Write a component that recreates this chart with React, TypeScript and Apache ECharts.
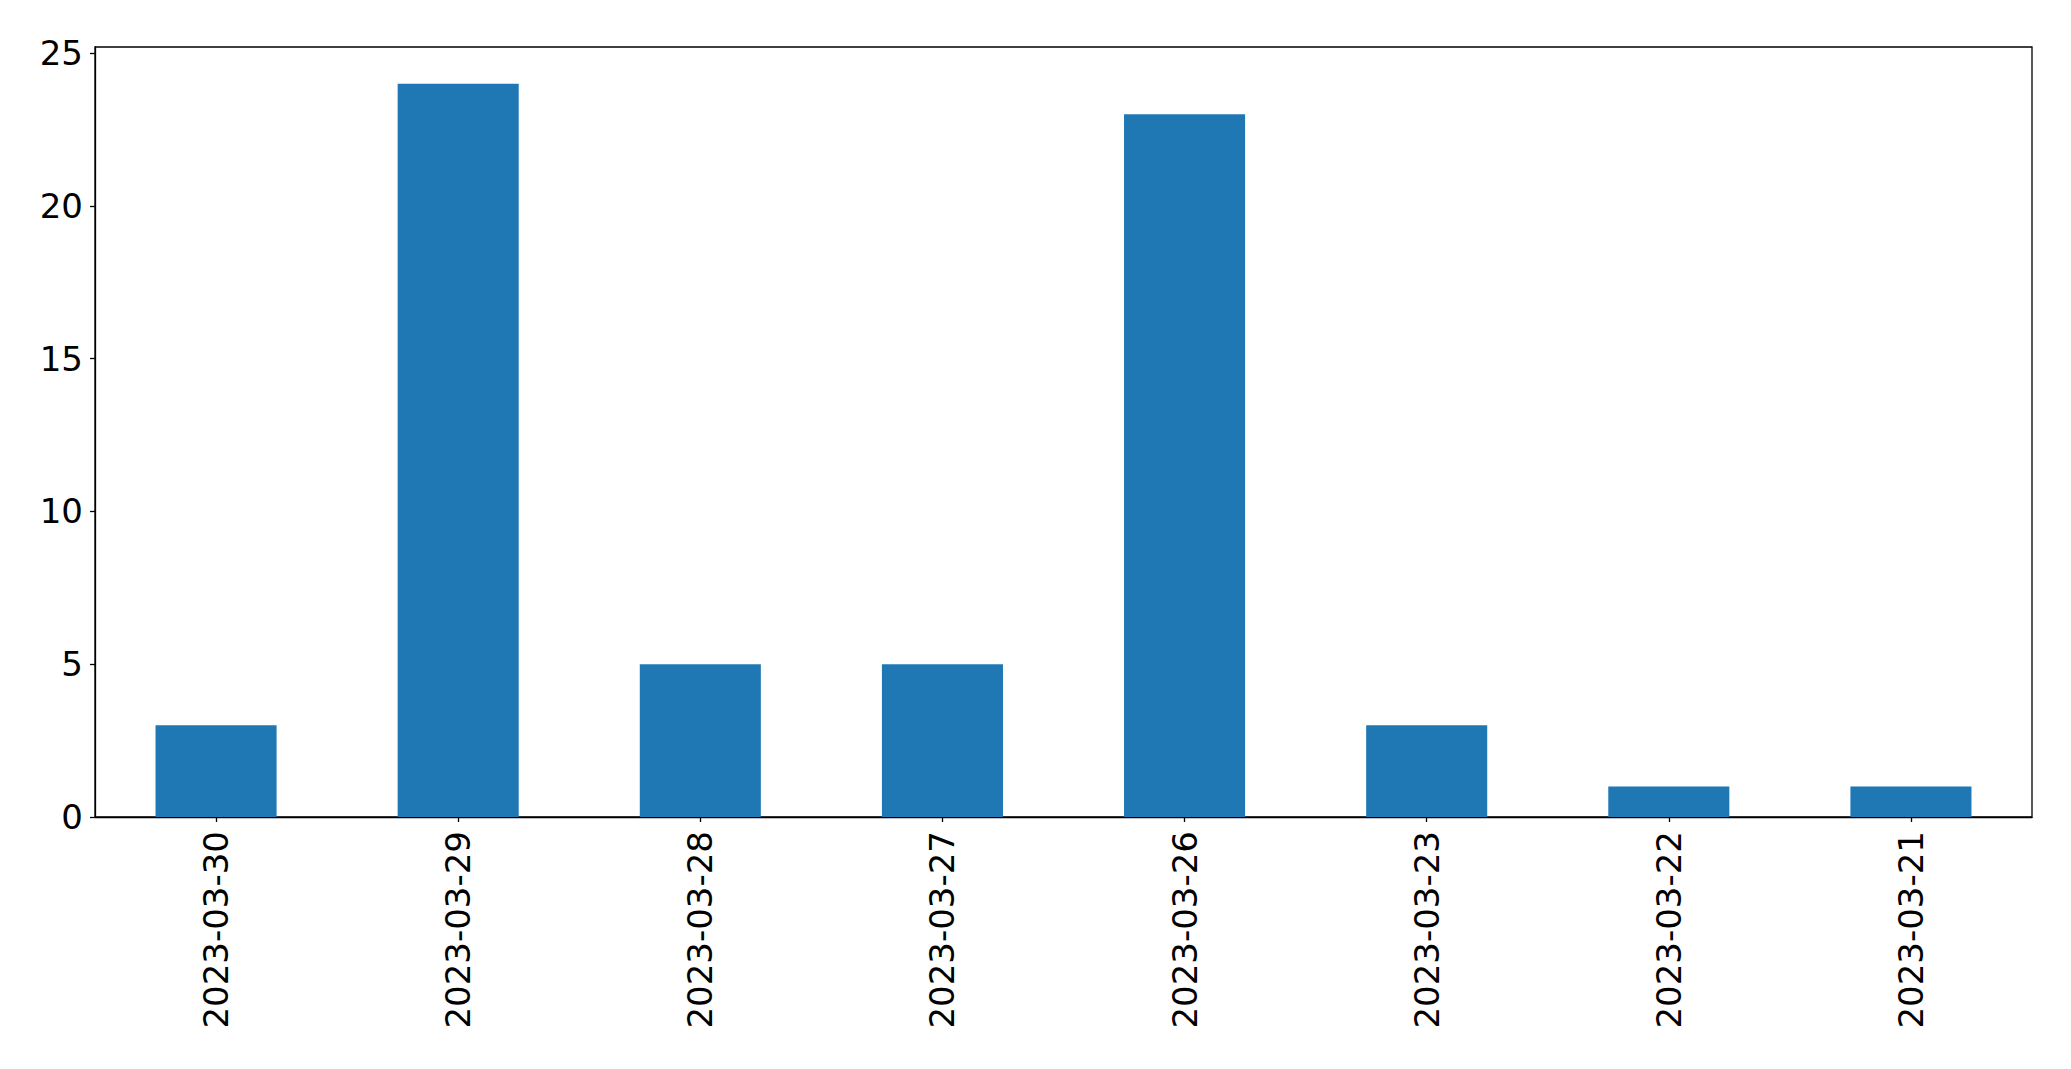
import React, { useEffect, useRef } from "react";
import * as echarts from "echarts";

const categories = ["2023-03-30", "2023-03-29", "2023-03-28", "2023-03-27", "2023-03-26", "2023-03-23", "2023-03-22", "2023-03-21"];
const values = [3, 24, 5, 5, 23, 3, 1, 1];
const yTicks = [0, 5, 10, 15, 20, 25];

export default function App() {
  const ref = useRef<HTMLDivElement>(null);
  useEffect(() => {
    if (!ref.current) return;
    const chart = echarts.init(ref.current, null, { renderer: "svg" });
    const font = "DejaVu Sans";
    chart.setOption({
      animation: false,
      backgroundColor: "#ffffff",
      grid: {
        left: 95,
        top: 47,
        right: 39,
        bottom: 252,
        show: true,
        borderColor: "#000000",
        borderWidth: 1.3,
        backgroundColor: "transparent",
      },
      xAxis: {
        type: "category",
        data: categories,
        boundaryGap: true,
        axisLine: { show: true, lineStyle: { color: "#000000", width: 1.3 } },
        axisTick: { show: true, alignWithLabel: true, length: 5, lineStyle: { color: "#000000", width: 1.3 } },
        axisLabel: {
          rotate: 90,
          interval: 0,
          margin: 14,
          color: "#000000",
          fontFamily: font,
          fontSize: 34,
        },
        splitLine: { show: false },
      },
      yAxis: {
        type: "value",
        min: 0,
        max: 25.2,
        axisLine: { show: true, lineStyle: { color: "#000000", width: 1.3 } },
        axisTick: { show: true, length: 5, customValues: yTicks, lineStyle: { color: "#000000", width: 1.3 } },
        axisLabel: {
          customValues: yTicks,
          margin: 12,
          color: "#000000",
          fontFamily: font,
          fontSize: 34,
        },
        splitLine: { show: false },
      },
      series: [
        {
          type: "bar",
          data: values,
          barWidth: "50%",
          itemStyle: { color: "#1f77b4" },
        },
      ],
    });
    return () => chart.dispose();
  }, []);
  return (
    <div
      ref={ref}
      style={{ position: "fixed", left: 0, top: 0, width: 2071, height: 1069, background: "#fff" }}
    />
  );
}
